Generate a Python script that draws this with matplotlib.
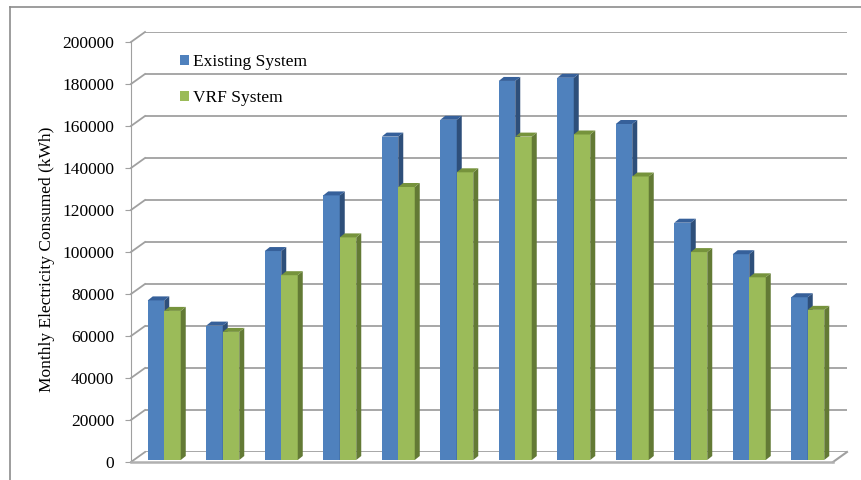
import matplotlib.pyplot as plt
import numpy as np
from matplotlib.patches import Polygon
from matplotlib.lines import Line2D
from matplotlib.transforms import ScaledTranslation

plt.rcParams['font.family'] = ['Liberation Serif', 'DejaVu Serif']

# monthly consumption (kWh)
months = ['Jan', 'Feb', 'Mar', 'Apr', 'May', 'Jun', 'Jul', 'Aug', 'Sep', 'Oct', 'Nov', 'Dec']
existing = [76000, 64000, 99500, 126000, 154000, 162000, 180500, 182000, 160000, 113000, 98000, 77500]
vrf = [71000, 61000, 88000, 106000, 130000, 137000, 154000, 155000, 135000, 99000, 87000, 71500]
yticks = np.arange(0, 200001, 20000)

W, H = 861, 480
fig = plt.figure(figsize=(W / 100, H / 100), dpi=100)

# back wall axes (gridlines) and front plane axes (ticks, labels)
L, R, T, B = 145, 847, 32, 452      # back wall in pixels
DX, DY = 14, 10                     # depth offset back -> front
ax_b = fig.add_axes([L / W, 1 - B / H, (R - L) / W, (B - T) / H])
ax = fig.add_axes([(L - DX) / W, 1 - (B + DY) / H, (R - L) / W, (B - T) / H])
for a in (ax_b, ax):
    a.set_xlim(-0.5, len(months) - 0.5)
    a.set_ylim(0, 200000)
    a.patch.set_visible(False)
ax_b.axis('off')

grid_col = '#a0a0a0'
for v in yticks:
    ax_b.axhline(v, color=grid_col, lw=1.3, zorder=0)

# side wall diagonals
ux = len(months) / (R - L)
uy = 200000 / (B - T)
for v in yticks:
    ax_b.plot([-0.5 - DX * ux, -0.5], [v - DY * uy, v], color=grid_col, lw=1.3, clip_on=False, zorder=0)
# floor right edge
ax_b.plot([len(months) - 0.5 - DX * ux, len(months) - 0.5], [-DY * uy, 0], color=grid_col, lw=1.5, clip_on=False)

# front axis
for s in ['top', 'right']:
    ax.spines[s].set_visible(False)
ax.spines['left'].set_color(grid_col)
ax.spines['bottom'].set_color('#b0b0b0')
ax.spines['bottom'].set_linewidth(1.8)
ax.set_xticks([])
ax.set_yticks(yticks)
ax.set_yticklabels([str(v) for v in yticks])
ax.tick_params(axis='y', length=4, color=grid_col, pad=8, labelsize=12.5)

fig.text(47 / W, 1 - 259 / H, 'Monthly Electricity Consumed (kWh)', rotation=90,
         ha='center', va='center', fontsize=12.5)

# bars: front faces drawn at an offset in front of the back wall
bdx, bdy = -10, -8
trans = ax_b.transData + ScaledTranslation(bdx / 100, bdy / 100, fig.dpi_scale_trans)
bw = 16.5 * ux
sx, sy = 5 * ux, 4 * uy
x = np.arange(len(months))

series = [
    (existing, x - bw / 2, 'Existing System', '#4f81bd', '#2e4f7a', '#36609a'),
    (vrf, x + bw / 2, 'VRF System', '#9bbb59', '#637a35', '#76933c'),
]
for i in range(len(months)):
    for vals, xs, lab, c_front, c_side, c_top in series:
        v = vals[i]
        x0, x1 = xs[i] - bw / 2, xs[i] + bw / 2
        ax_b.bar(xs[i], v, width=bw, color=c_front, transform=trans, clip_on=False,
                 label=lab if i == 0 else None, zorder=3)
        side = Polygon([(x1, 0), (x1, v), (x1 + sx, v + sy), (x1 + sx, sy)], closed=True,
                       facecolor=c_side, edgecolor='none', transform=trans, clip_on=False, zorder=3)
        top = Polygon([(x0, v), (x1, v), (x1 + sx, v + sy), (x0 + sx, v + sy)], closed=True,
                      facecolor=c_top, edgecolor='none', transform=trans, clip_on=False, zorder=3)
        ax_b.add_patch(side)
        ax_b.add_patch(top)

leg = ax_b.legend(loc='upper left', bbox_to_anchor=(180 / W, 1 - 54 / H),
                  bbox_transform=fig.transFigure, frameon=False, fontsize=12.5,
                  handlelength=0.52, handleheight=0.52, handletextpad=0.25,
                  labelspacing=1.18, borderpad=0, borderaxespad=0)

# outer chart border
fig.add_artist(Line2D([10 / W, 10 / W], [0, 1 - 7 / H], color='#8c8c8c', lw=1.2))
fig.add_artist(Line2D([10 / W, 1], [1 - 7 / H, 1 - 7 / H], color='#8c8c8c', lw=1.2))

fig.savefig('out.png', dpi=100)
